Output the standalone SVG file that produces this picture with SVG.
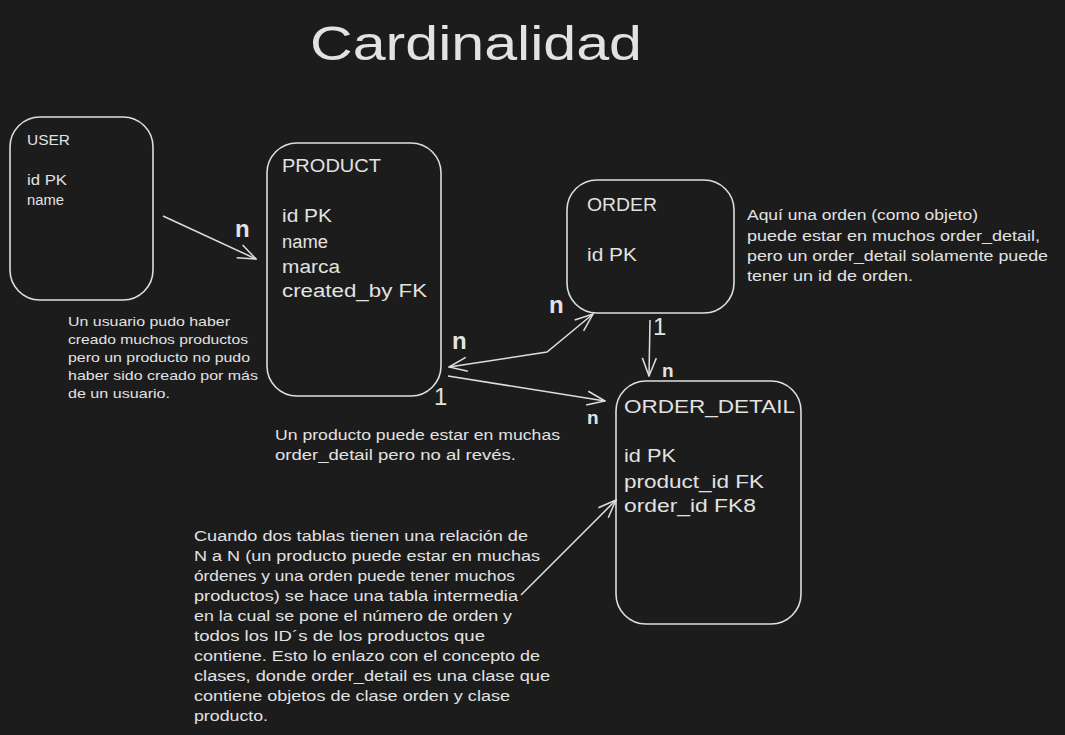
<svg xmlns="http://www.w3.org/2000/svg" width="1065" height="735" viewBox="0 0 1065 735">
<style>
.bg{fill:#1c1c1c}
.box{fill:none;stroke:#dedede;stroke-width:1.6}
.t{fill:#e2e2e2;font-family:"Liberation Sans","Noto Sans",sans-serif}
.s13{font-size:13px}
.s14{font-size:14px}
.s18{font-size:18px}
.lbl{font-size:24px;font-weight:bold}
.lbs{font-size:19px;font-weight:bold}
.one{font-size:24px;font-weight:normal}
.edge{fill:none;stroke:#dedede;stroke-width:1.5}
</style>
<defs>
<marker id="arr" viewBox="0 0 20 20" refX="19" refY="10" markerWidth="20" markerHeight="20" markerUnits="userSpaceOnUse" orient="auto-start-reverse">
<path d="M1,3 L19,10 L1,17" fill="none" stroke="#dedede" stroke-width="1.5"/>
</marker>
</defs>
<rect class="bg" x="0" y="0" width="1065" height="735"/>
<text class="t" x="310" y="60" font-size="48" textLength="332" lengthAdjust="spacingAndGlyphs">Cardinalidad</text>

<g id="user">
<rect class="box" x="10" y="117" width="143" height="183" rx="30"/>
<text class="t s14" x="27" y="145" textLength="43" lengthAdjust="spacingAndGlyphs">USER</text>
<text class="t s14" x="27" y="185" textLength="40" lengthAdjust="spacingAndGlyphs">id PK</text>
<text class="t s14" x="27" y="205" textLength="37" lengthAdjust="spacingAndGlyphs">name</text>
</g>

<g id="product">
<rect class="box" x="267" y="143" width="174" height="253" rx="30"/>
<text class="t s18" x="282" y="172" textLength="99" lengthAdjust="spacingAndGlyphs">PRODUCT</text>
<text class="t s18" x="282" y="222" textLength="50" lengthAdjust="spacingAndGlyphs">id PK</text>
<text class="t s18" x="282" y="248" textLength="46" lengthAdjust="spacingAndGlyphs">name</text>
<text class="t s18" x="282" y="273" textLength="58" lengthAdjust="spacingAndGlyphs">marca</text>
<text class="t s18" x="282" y="297" textLength="145" lengthAdjust="spacingAndGlyphs">created_by FK</text>
</g>

<g id="order">
<rect class="box" x="567" y="180" width="167" height="133" rx="30"/>
<text class="t s18" x="587" y="211" textLength="70" lengthAdjust="spacingAndGlyphs">ORDER</text>
<text class="t s18" x="587" y="261" textLength="50" lengthAdjust="spacingAndGlyphs">id PK</text>
</g>

<g id="order_detail">
<rect class="box" x="616" y="381" width="185" height="243" rx="30"/>
<text class="t s18" x="624" y="413" textLength="171" lengthAdjust="spacingAndGlyphs">ORDER_DETAIL</text>
<text class="t s18" x="624" y="462" textLength="52" lengthAdjust="spacingAndGlyphs">id PK</text>
<text class="t s18" x="624" y="488" textLength="140" lengthAdjust="spacingAndGlyphs">product_id FK</text>
<text class="t s18" x="624" y="512" textLength="132" lengthAdjust="spacingAndGlyphs">order_id FK8</text>
</g>

<g id="note-user">
<text class="t s13" x="68" y="326" textLength="162" lengthAdjust="spacingAndGlyphs">Un usuario pudo haber</text>
<text class="t s13" x="68" y="344" textLength="180" lengthAdjust="spacingAndGlyphs">creado muchos productos</text>
<text class="t s13" x="68" y="362" textLength="182" lengthAdjust="spacingAndGlyphs">pero un producto no pudo</text>
<text class="t s13" x="68" y="380" textLength="190" lengthAdjust="spacingAndGlyphs">haber sido creado por más</text>
<text class="t s13" x="68" y="398" textLength="102" lengthAdjust="spacingAndGlyphs">de un usuario.</text>
</g>

<g id="note-product">
<text class="t s14" x="275" y="440" textLength="285" lengthAdjust="spacingAndGlyphs">Un producto puede estar en muchas</text>
<text class="t s14" x="275" y="460" textLength="241" lengthAdjust="spacingAndGlyphs">order_detail pero no al revés.</text>
</g>

<g id="note-order">
<text class="t s14" x="747" y="220" textLength="231" lengthAdjust="spacingAndGlyphs">Aquí una orden (como objeto)</text>
<text class="t s14" x="747" y="241" textLength="293" lengthAdjust="spacingAndGlyphs">puede estar en muchos order_detail,</text>
<text class="t s14" x="747" y="261" textLength="301" lengthAdjust="spacingAndGlyphs">pero un order_detail solamente puede</text>
<text class="t s14" x="747" y="281" textLength="166" lengthAdjust="spacingAndGlyphs">tener un id de orden.</text>
</g>

<g id="note-nn">
<text class="t s14" x="194" y="541" textLength="334" lengthAdjust="spacingAndGlyphs">Cuando dos tablas tienen una relación de</text>
<text class="t s14" x="194" y="561" textLength="346" lengthAdjust="spacingAndGlyphs">N a N (un producto puede estar en muchas</text>
<text class="t s14" x="194" y="581" textLength="321" lengthAdjust="spacingAndGlyphs">órdenes y una orden puede tener muchos</text>
<text class="t s14" x="194" y="601" textLength="324" lengthAdjust="spacingAndGlyphs">productos) se hace una tabla intermedia</text>
<text class="t s14" x="194" y="621" textLength="318" lengthAdjust="spacingAndGlyphs">en la cual se pone el número de orden y</text>
<text class="t s14" x="194" y="641" textLength="291" lengthAdjust="spacingAndGlyphs">todos los ID´s de los productos que</text>
<text class="t s14" x="194" y="661" textLength="346" lengthAdjust="spacingAndGlyphs">contiene. Esto lo enlazo con el concepto de</text>
<text class="t s14" x="194" y="681" textLength="356" lengthAdjust="spacingAndGlyphs">clases, donde order_detail es una clase que</text>
<text class="t s14" x="194" y="701" textLength="316" lengthAdjust="spacingAndGlyphs">contiene objetos de clase orden y clase</text>
<text class="t s14" x="194" y="721" textLength="74" lengthAdjust="spacingAndGlyphs">producto.</text>
</g>

<g id="connectors">
<path class="edge" d="M163,216 L256,259" marker-end="url(#arr)"/>
<path class="edge" d="M449,367 L547,352 L593,314" marker-start="url(#arr)" marker-end="url(#arr)"/>
<path class="edge" d="M448,376 L605,401" marker-end="url(#arr)"/>
<path class="edge" d="M650,320 L649,376" marker-end="url(#arr)"/>
<path class="edge" d="M521,595 L616,500" marker-end="url(#arr)"/>
<text class="t lbl" x="235" y="237">n</text>
<text class="t lbl" x="452" y="349">n</text>
<text class="t lbl" x="549" y="313">n</text>
<text class="t one" x="434" y="405">1</text>
<text class="t lbs" x="587" y="424">n</text>
<text class="t one" x="653" y="335">1</text>
<text class="t lbs" x="662" y="377">n</text>
</g>
</svg>
